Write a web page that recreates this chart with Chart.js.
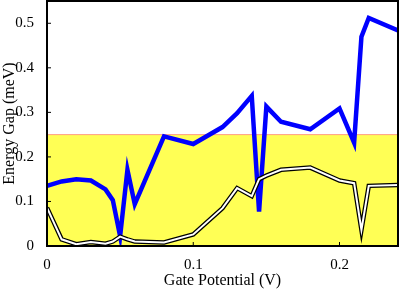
<!DOCTYPE html>
<html>
<head>
<meta charset="utf-8">
<script src="https://cdn.jsdelivr.net/npm/chart.js@4"></script>
<style>
  html, body { margin: 0; padding: 0; background: #fff; }
  #wrap { width: 399px; height: 290px; }
</style>
</head>
<body>
<div id="wrap"><canvas id="chart" width="399" height="290"></canvas></div>
<script>
const gateV = [0, 0.01, 0.02, 0.03, 0.04, 0.045, 0.05, 0.055, 0.06, 0.08, 0.1, 0.12, 0.13, 0.14, 0.145, 0.15, 0.16, 0.18, 0.2, 0.21, 0.215, 0.22, 0.24];
const gapUpper = [0.135, 0.145, 0.15, 0.147, 0.127, 0.103, 0.022, 0.171, 0.094, 0.246, 0.229, 0.267, 0.298, 0.337, 0.077, 0.313, 0.279, 0.262, 0.309, 0.232, 0.470, 0.512, 0.484];
const gapLower = [0.086, 0.015, 0.004, 0.009, 0.005, 0.01, 0.021, 0.015, 0.01, 0.008, 0.026, 0.085, 0.13, 0.112, 0.15, 0.158, 0.171, 0.176, 0.147, 0.141, 0.036, 0.135, 0.137];
const bandTop = 0.25;
const xTicks = [0, 0.1, 0.2];
const yTicks = [0, 0.1, 0.2, 0.3, 0.4, 0.5];

const pts = (ys) => gateV.map((x, i) => ({ x, y: ys[i] }));
const serif = '"Liberation Serif", "DejaVu Serif", serif';
const tickFont = { family: serif, size: 15 };
const titleFont = { family: serif, size: 16 };
const fmt = v => v === 0 ? '0' : String(+v.toFixed(2));

// frame + inward ticks
const framePlugin = {
    id: 'frame',
    afterDatasetsDraw(chart) {
        const { ctx, chartArea: a, scales } = chart;
        ctx.save();
        ctx.strokeStyle = '#000';
        ctx.lineWidth = 1;
        ctx.beginPath();
        xTicks.forEach(t => {
            const px = scales.x.getPixelForValue(t);
            ctx.moveTo(px, a.bottom); ctx.lineTo(px, a.bottom - 4);
        });
        yTicks.forEach(t => {
            const py = scales.y.getPixelForValue(t);
            ctx.moveTo(a.left, py); ctx.lineTo(a.left + 4, py);
        });
        ctx.stroke();
        ctx.lineWidth = 2;
        ctx.strokeRect(a.left, a.top, a.right - a.left, a.bottom - a.top);
        ctx.restore();
    }
};

new Chart(document.getElementById('chart'), {
    type: 'scatter',
    data: {
        datasets: [
            {
                data: [{ x: 0, y: bandTop }, { x: 0.24, y: bandTop }],
                showLine: true, fill: 'origin',
                backgroundColor: '#ffff55', borderColor: '#ff9c80', borderWidth: 1,
                pointRadius: 0, order: 4
            },
            {
                data: pts(gapUpper), showLine: true,
                borderColor: '#0000ff', borderWidth: 4.5, borderJoinStyle: 'miter',
                pointRadius: 0, order: 3
            },
            {
                data: pts(gapLower), showLine: true,
                borderColor: '#000', borderWidth: 4.5, borderJoinStyle: 'miter',
                pointRadius: 0, order: 2
            },
            {
                data: pts(gapLower), showLine: true,
                borderColor: '#fff', borderWidth: 2, borderJoinStyle: 'miter',
                pointRadius: 0, order: 1
            }
        ]
    },
    options: {
        responsive: false,
        animation: false,
        layout: { padding: { top: 1, right: 1, left: 0, bottom: 0 } },
        plugins: { legend: { display: false }, tooltip: { enabled: false } },
        scales: {
            x: {
                type: 'linear', min: 0, max: 0.24,
                afterBuildTicks: s => { s.ticks = xTicks.map(v => ({ value: v })); },
                afterFit: s => { s.height = 44; s.paddingLeft = 0; s.paddingRight = 0; },
                grid: { display: false }, border: { display: false },
                ticks: { color: '#000', font: tickFont, padding: 2, maxRotation: 0, callback: fmt },
                title: { display: true, text: 'Gate Potential (V)', color: '#000', font: titleFont, padding: { top: 3, bottom: 0 } }
            },
            y: {
                type: 'linear', min: 0, max: 0.55,
                afterBuildTicks: s => { s.ticks = yTicks.map(v => ({ value: v })); },
                afterFit: s => { s.width = 47; s.paddingTop = 0; s.paddingBottom = 0; },
                grid: { display: false }, border: { display: false },
                ticks: { color: '#000', font: tickFont, padding: 5, callback: fmt },
                title: { display: true, text: 'Energy Gap (meV)', color: '#000', font: titleFont, padding: { top: 0, bottom: 1 } }
            }
        }
    },
    plugins: [framePlugin]
});
</script>
</body>
</html>
